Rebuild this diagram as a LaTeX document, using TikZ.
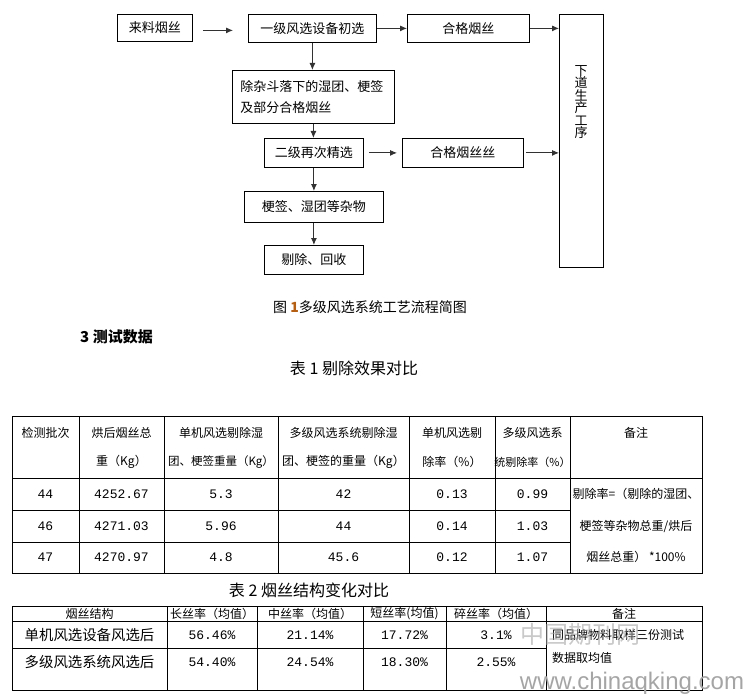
\documentclass[tikz,border=0pt]{standalone}
\usepackage{fontspec}
\setmainfont{Noto Sans CJK SC}
\newfontfamily\numfont{Liberation Mono}
\newfontfamily\wmfont{Liberation Sans}
\usetikzlibrary{arrows.meta}
\definecolor{arrowgray}{RGB}{50,50,50}
\definecolor{capnum}{RGB}{180,95,20}
\definecolor{wmgray}{RGB}{165,165,165}
\newcommand\fsz[1]{\fontsize{#1}{#1}\selectfont}
\begin{document}
\begin{tikzpicture}[x=1pt,y=-1pt,
  box/.style={draw, line width=0.8pt, anchor=north west, inner sep=0pt, font=\fsz{13}},
  arr/.style={draw=arrowgray, line width=0.9pt, -{Latex[length=7pt,width=6pt]}},
  grid/.style={line width=0.8pt},
  th/.style={font=\fsz{12}, inner sep=0pt},
  td/.style={font=\numfont\fsz{13}, inner sep=0pt},
  captext/.style={font=\fsz{16}, inner sep=0pt}
]
\useasboundingbox (0,0) rectangle (746,695);

% ---------------- flowchart ----------------
\node[box, minimum width=75pt, minimum height=27pt] (n1) at (117,14) {来料烟丝};
\node[box, minimum width=128pt, minimum height=28pt] (n2) at (248,14) {一级风选设备初选};
\node[box, minimum width=122pt, minimum height=28pt] (n3) at (407,14) {合格烟丝};
\node[box, minimum width=162pt, minimum height=53pt, align=left, text width=146pt,
      inner xsep=8pt, font=\fontsize{13}{21}\selectfont] (n4) at (232,70)
      {除杂斗落下的湿团、梗签\\及部分合格烟丝};
\node[box, minimum width=99pt, minimum height=29pt] (n5) at (264,138) {二级再次精选};
\node[box, minimum width=121pt, minimum height=29pt] (n6) at (402,138) {合格烟丝丝};
\node[box, minimum width=139pt, minimum height=31pt] (n7) at (244,191) {梗签、湿团等杂物};
\node[box, minimum width=99pt, minimum height=29pt] (n8) at (264,245) {剔除、回收};
\node[box, minimum width=44pt, minimum height=253pt] (n9) at (559,14) {};
\node[inner sep=0pt, align=center, font=\fontsize{13}{12.5}\selectfont] (n9t) at (581,102)
      {下\\道\\生\\产\\工\\序};
\coordinate (n1out) at ([yshift=-2.5pt]n1.east);

\draw[arr, shorten <=10pt, shorten >=15pt] (n1out) -- (n1out -| n2.west);
\draw[arr] (n2.east) -- (n2.east -| n3.west);
\draw[arr] (n2.south) -- (n2.south |- n4.north);
\draw[arr] (n4.south) -- (n4.south |- n5.north);
\draw[arr, shorten <=5pt, shorten >=5pt] (n5.east) -- (n5.east -| n6.west);
\draw[arr] (n3.east) -- (n3.east -| n9.west);
\draw[arr, shorten <=2pt] (n6.east) -- (n6.east -| n9.west);
\draw[arr] (n5.south) -- (n5.south |- n7.north);
\draw[arr] (n7.south) -- (n7.south |- n8.north);

% ---------------- captions ----------------
\node[inner sep=0pt, font=\fsz{14}] (c1) at (370,307) {图 {\color{capnum}\textbf{1}}多级风选系统工艺流程简图};
\node[inner sep=0pt, anchor=west, font=\bfseries\fsz{15}] (c2) at (80,337) {3 测试数据};
\node[captext] (c3) at (354,368) {表 1 剔除效果对比};
\node[captext] (c4) at (309,590) {表 2 烟丝结构变化对比};

% ---------------- table 1 ----------------
\draw[grid] (12,416) rectangle (702,573);
\draw[grid] (12,478) -- (702,478);
\draw[grid] (12,510) -- (570,510);
\draw[grid] (12,542) -- (570,542);
\foreach \xx in {79,164,278,409,495,570} \draw[grid] (\xx,416) -- (\xx,573);

\node[th] (t1h1) at (45.5,433) {检测批次};
\node[th] (t1h2a) at (121.5,433) {烘后烟丝总};
\node[th] (t1h2b) at (121.5,462) {重（Kg）};
\node[th] (t1h3a) at (221,433) {单机风选剔除湿};
\node[th, font=\fsz{11.5}] (t1h3b) at (221,462) {团、梗签重量（Kg）};
\node[th] (t1h4a) at (343.5,433) {多级风选系统剔除湿};
\node[th] (t1h4b) at (343.5,462) {团、梗签的重量（Kg）};
\node[th] (t1h5a) at (452,433) {单机风选剔};
\node[th] (t1h5b) at (452,462) {除率（\%）};
\node[th] (t1h6a) at (532.5,433) {多级风选系};
\node[th, font=\fsz{11}] (t1h6b) at (532.5,462) {统剔除率（\%）};
\node[th] (t1h7) at (636,433) {备注};

\node[td] (r1c1) at (45.5,494) {44};
\node[td] (r1c2) at (121.5,494) {4252.67};
\node[td] (r1c3) at (221,494) {5.3};
\node[td] (r1c4) at (343.5,494) {42};
\node[td] (r1c5) at (452,494) {0.13};
\node[td] (r1c6) at (532.5,494) {0.99};
\node[td] (r2c1) at (45.5,526) {46};
\node[td] (r2c2) at (121.5,526) {4271.03};
\node[td] (r2c3) at (221,526) {5.96};
\node[td] (r2c4) at (343.5,526) {44};
\node[td] (r2c5) at (452,526) {0.14};
\node[td] (r2c6) at (532.5,526) {1.03};
\node[td] (r3c1) at (45.5,557) {47};
\node[td] (r3c2) at (121.5,557) {4270.97};
\node[td] (r3c3) at (221,557) {4.8};
\node[td] (r3c4) at (343.5,557) {45.6};
\node[td] (r3c5) at (452,557) {0.12};
\node[td] (r3c6) at (532.5,557) {1.07};
\node[th] (rm1) at (636,494) {剔除率=（剔除的湿团、};
\node[th] (rm2) at (636,526) {梗签等杂物总重/烘后};
\node[th] (rm3) at (636,557) {烟丝总重） *100\%};

% ---------------- table 2 ----------------
\draw[grid] (12,606) rectangle (702,690);
\draw[grid] (12,621) -- (702,621);
\draw[grid] (12,648) -- (546,648);
\foreach \xx in {167,257,363,446,546} \draw[grid] (\xx,606) -- (\xx,690);

\node[th] (u1) at (89.5,614) {烟丝结构};
\node[th] (u2) at (212,614) {长丝率（均值）};
\node[th] (u3) at (310,614) {中丝率（均值）};
\node[th] (u4) at (404.5,614) {短丝率(均值)};
\node[th] (u5) at (496,614) {碎丝率（均值）};
\node[th] (u6) at (624,614) {备注};

\node[th, font=\fsz{14.4}] (s1c1) at (89.5,635) {单机风选设备风选后};
\node[td] (s1c2) at (212,635) {56.46\%};
\node[td] (s1c3) at (310,635) {21.14\%};
\node[td] (s1c4) at (404.5,635) {17.72\%};
\node[td] (s1c5) at (496,635) {3.1\%};
\node[th, font=\fsz{14.4}] (s2c1) at (89.5,662) {多级风选系统风选后};
\node[td] (s2c2) at (212,662) {54.40\%};
\node[td] (s2c3) at (310,662) {24.54\%};
\node[td] (s2c4) at (404.5,662) {18.30\%};
\node[td] (s2c5) at (496,662) {2.55\%};
\node[th, anchor=west] (sm1) at (552,635) {同品牌物料取样三份测试};
\node[th, anchor=west] (sm2) at (552,658) {数据取均值};

% ---------------- watermark ----------------
\node[inner sep=0pt, font=\fsz{24}, text=wmgray, opacity=0.6] (wm1) at (580,634) {中国期刊网};
\node[inner sep=0pt, font=\wmfont\fsz{24}, text=wmgray] (wm2) at (632,683) {www.chinaqking.com};
\end{tikzpicture}
\end{document}
